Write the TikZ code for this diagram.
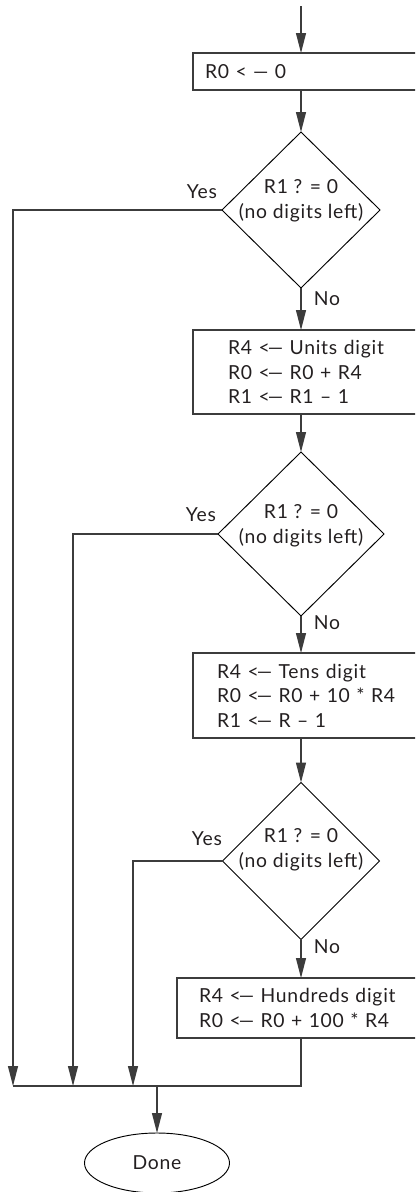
\documentclass[tikz,border=0pt]{standalone}
\usepackage{fontspec}
\setmainfont{Lato}[LetterSpace=4]
\usetikzlibrary{shapes.geometric,arrows.meta}
\definecolor{linec}{HTML}{3C3C3C}
\definecolor{txt}{HTML}{231F20}
\newcommand{\la}{<\kern-1.5pt—}
\tikzset{
  ln/.style={draw=linec, line width=0.9pt},
  arr/.style={ln, -{Triangle[length=15pt,width=7.5pt]}},
  procbox/.style={rectangle, draw=linec, line width=0.9pt, inner ysep=0pt,
    outer sep=0pt, align=left, text=txt, font=\fontsize{14.5}{18.4}\selectfont},
  dec/.style={diamond, draw=black, line width=0.7pt, inner sep=0pt, outer sep=0pt},
  dtext/.style={align=center, text=txt, inner sep=0pt, font=\fontsize{14.5}{18.8}\selectfont},
  lbl/.style={text=txt, inner sep=0pt, font=\fontsize{14.5}{16}\selectfont},
  term/.style={ellipse, draw=black, line width=0.7pt, inner sep=0pt, outer sep=0pt,
    text=txt, font=\fontsize{14.5}{16}\selectfont}
}
\begin{document}
\begin{tikzpicture}[x=0.75pt,y=-0.75pt]
\useasboundingbox (0,0) rectangle (415,1192);
\clip (0,0) rectangle (415,1192);
% process boxes (right side runs off the picture)
\node[procbox, minimum width=185.25pt, minimum height=27.75pt, inner xsep=9pt, text width=167.25pt] (b1) at (316.5,71.5) {R0 < — 0};
\node[procbox, minimum width=185.25pt, minimum height=63pt, inner xsep=26.25pt, text width=132.75pt] (b2) at (316.5,372) {R4 \la{} Units digit\\R0 \la{} R0 + R4\\R1 \la{} R1 – 1};
\node[procbox, minimum width=185.25pt, minimum height=63.75pt, inner xsep=18pt, text width=149.25pt] (b3) at (316.5,695.5) {R4 \la{} Tens digit\\R0 \la{} R0 + 10 * R4\\R1 \la{} R – 1};
\node[procbox, minimum width=197.25pt, minimum height=45pt, inner xsep=16.5pt, text width=164.25pt] (b4) at (308.5,1008) {R4 \la{} Hundreds digit\\R0 \la{} R0 + 100 * R4};
% decisions
\node[dec, minimum width=118.5pt, minimum height=117pt] (d1) at (301,210) {};
\node[dec, minimum width=124.5pt, minimum height=123pt] (d2) at (301,534) {};
\node[dec, minimum width=117.75pt, minimum height=117.75pt] (d3) at (301,861) {};
\node[dtext] (t1) at (301,200.5) {R1 ? = 0\\(no digits left)};
\node[dtext] (t2) at (301,526) {R1 ? = 0\\(no digits left)};
\node[dtext] (t3) at (301,850) {R1 ? = 0\\(no digits left)};
% labels
\node[lbl] (y1) at (202,192) {Yes};
\node[lbl] (y2) at (201,515) {Yes};
\node[lbl] (y3) at (207,839) {Yes};
\node[lbl] (n1) at (327,299) {No};
\node[lbl] (n2) at (327,623) {No};
\node[lbl] (n3) at (327,947) {No};
% terminal
\node[term, minimum width=108.75pt, minimum height=45pt] (e) at (157,1163) {Done};
% coordinates
\coordinate (s) at (301,6);
\coordinate (m1) at (13,1086);
\coordinate (m2) at (73,1086);
\coordinate (m3) at (133,1086);
\coordinate (mj) at (157,1086);
\coordinate (mr) at (301,1086);
% connectors
\draw[arr] (s) -- (b1.north -| d1);
\draw[arr] (b1.south -| d1) -- (d1.north);
\draw[arr] (d1.south) -- (b2.north -| d1);
\draw[arr] (b2.south -| d1) -- (d2.north);
\draw[arr] (d2.south) -- (b3.north -| d2);
\draw[arr] (b3.south -| d2) -- (d3.north);
\draw[arr] (d3.south) -- (b4.north -| d3);
\draw[arr] (d1.west) -| (m1);
\draw[arr] (d2.west) -| (m2);
\draw[arr] (d3.west) -| (m3);
\draw[ln] (b4.south -| d3) -- (mr) -- (m1);
\draw[arr] (mj) -- (e.north);
\end{tikzpicture}
\end{document}
